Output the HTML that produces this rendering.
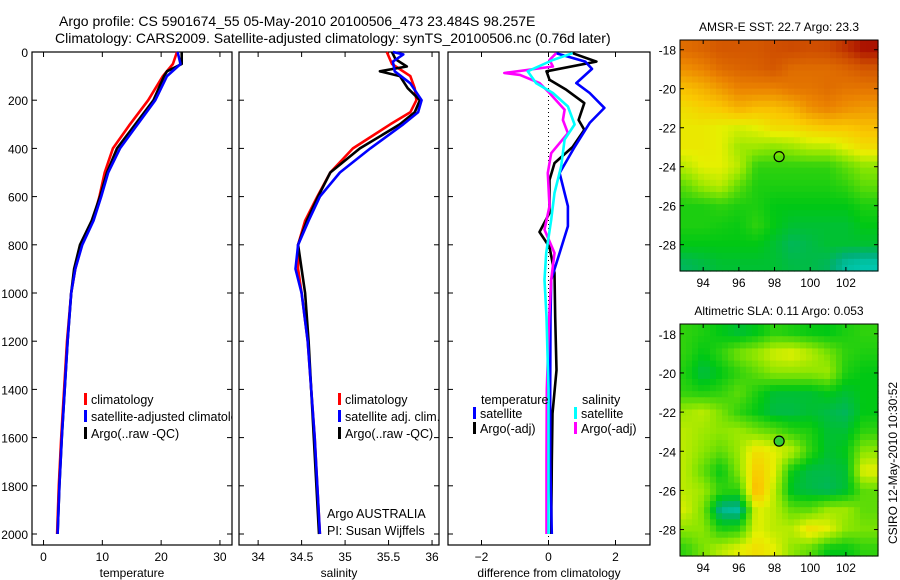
<!DOCTYPE html>
<html><head><meta charset="utf-8"><style>
body{margin:0;background:#fff;}
svg{display:block;font-family:"Liberation Sans",sans-serif;}
</style></head><body>
<svg id="chart" width="900" height="580" viewBox="0 0 900 580" xmlns="http://www.w3.org/2000/svg">
<defs><clipPath id="clip1"><rect x="32" y="52" width="200" height="493"/></clipPath></defs>
<text x="59" y="26" font-size="14">Argo profile: CS 5901674_55 05-May-2010 20100506_473 23.484S 98.257E</text>
<text x="55" y="43" font-size="14">Climatology: CARS2009. Satellite-adjusted climatology: synTS_20100506.nc (0.76d later)</text>
<g id="g"></g>
</svg>
<script>
// ---------- data ----------
const tempDepthClim = [0,50,100,200,300,400,500,600,700,800,900,1000,1200,1400,1600,1800,2000];
const tempClim      = [22.7,22.0,20.3,17.8,14.7,11.8,10.4,9.5,8.4,6.5,5.4,4.7,4.0,3.5,3.0,2.6,2.3];
const tempDepthArgo = [0,50,80,100,200,300,400,500,600,700,800,900,1000,1200,1400,1600,1800,2000];
const tempArgo      = [23.5,23.5,21.0,20.5,18.7,15.6,12.5,10.8,9.6,8.2,6.2,5.2,4.7,4.1,3.6,3.1,2.7,2.4];
const tempDepthSat  = [0,50,100,200,300,400,500,600,700,800,900,1000,1200,1400,1600,1800,2000];
const tempSat       = [22.8,23.3,21.0,19.0,16.0,13.0,11.0,9.8,8.5,6.6,5.4,4.7,4.1,3.6,3.1,2.7,2.4];

const salDepthClim = [0,50,100,150,200,250,300,400,500,600,700,800,900,1000,1200,1400,1600,1800,2000];
const salClim      = [35.48,35.54,35.75,35.80,35.82,35.75,35.52,35.09,34.83,34.68,34.54,34.46,34.46,34.50,34.57,34.61,34.65,34.68,34.71];
const salDepthArgo = [0,30,60,80,100,150,200,250,300,400,500,600,700,800,900,1000,1200,1400,1600,1800,2000];
const salArgo      = [35.54,35.58,35.71,35.40,35.63,35.72,35.86,35.80,35.63,35.17,34.83,34.69,34.56,34.46,34.50,34.54,34.58,34.61,34.64,34.67,34.70];
const salDepthSat  = [0,10,40,80,130,200,250,300,400,500,600,700,800,900,1000,1200,1400,1600,1800,2000];
const salSat       = [35.55,35.67,35.55,35.57,35.75,35.88,35.84,35.67,35.29,34.94,34.71,34.58,34.46,34.43,34.50,34.57,34.61,34.65,34.68,34.71];

const diffDepthTArgo = [5,40,80,115,157,212,282,323,394,461,531,668,747,809,917,1100,1320,1500,1700,2000];
const diffTArgo      = [0.72,1.43,-0.06,0.03,0.53,1.07,0.90,1.07,0.72,0.18,0.03,0.03,-0.27,0.03,0.18,0.20,0.24,0.12,0.10,0.08];
const diffDepthTSat  = [5,40,70,129,170,232,294,394,502,640,723,834,945,1100,1400,1700,2000];
const diffTSat       = [0.23,1.10,1.30,0.83,1.23,1.67,1.23,0.78,0.33,0.58,0.58,0.33,0.08,0.06,0.05,0.05,0.10];
const diffDepthSSat  = [5,33,80,129,170,226,301,363,474,585,696,834,945,1100,1400,1700,2000];
const diffSSat       = [0.72,0.13,-0.62,-0.37,0.13,0.58,0.78,0.48,0.38,0.18,0.08,-0.07,-0.12,-0.06,0.0,0.0,0.0];
const diffDepthSArgo = [5,33,60,87,95,129,170,240,282,337,420,502,640,737,834,945,1100,1400,1700,2000];
const diffSArgo      = [0.23,0.03,0.13,-1.32,-0.85,-0.27,0.03,0.48,0.43,0.58,0.08,-0.02,0.03,-0.12,0.18,0.08,0.02,-0.05,-0.06,-0.06];

const depthTicks = [0,200,400,600,800,1000,1200,1400,1600,1800,2000];
const tempTicks = [0,10,20,30];
const salTicks = [34,34.5,35,35.5,36];
const diffTicks = [-2,0,2];
const latTicks = [-18,-20,-22,-24,-26,-28];
const lonTicks = [94,96,98,100,102];

const sstGrid = [
[0.80,0.82,0.85,0.85,0.85,0.87,0.88,0.87,0.88,0.92,0.97],
[0.72,0.75,0.80,0.82,0.83,0.85,0.80,0.80,0.80,0.82,0.85],
[0.62,0.65,0.70,0.75,0.75,0.75,0.78,0.78,0.80,0.78,0.78],
[0.55,0.58,0.60,0.65,0.62,0.62,0.65,0.72,0.75,0.72,0.70],
[0.52,0.52,0.50,0.48,0.50,0.55,0.55,0.58,0.60,0.60,0.62],
[0.52,0.52,0.50,0.42,0.42,0.40,0.42,0.45,0.45,0.50,0.55],
[0.45,0.50,0.50,0.45,0.30,0.30,0.30,0.30,0.30,0.35,0.40],
[0.35,0.42,0.45,0.35,0.28,0.28,0.28,0.28,0.28,0.30,0.35],
[0.28,0.28,0.30,0.28,0.28,0.25,0.25,0.25,0.25,0.25,0.28],
[0.28,0.28,0.27,0.26,0.30,0.25,0.22,0.22,0.22,0.22,0.25],
[0.25,0.25,0.25,0.25,0.25,0.22,0.18,0.20,0.22,0.22,0.22],
[0.18,0.20,0.22,0.22,0.22,0.22,0.20,0.20,0.18,0.10,0.08]];
const slaGrid = [
[0.30,0.28,0.25,0.22,0.25,0.30,0.28,0.26,0.25,0.28,0.30],
[0.30,0.25,0.30,0.38,0.42,0.48,0.50,0.45,0.38,0.30,0.28],
[0.28,0.20,0.25,0.30,0.35,0.40,0.40,0.40,0.42,0.28,0.25],
[0.30,0.28,0.30,0.35,0.28,0.22,0.22,0.22,0.25,0.22,0.25],
[0.42,0.45,0.38,0.30,0.25,0.20,0.20,0.22,0.20,0.18,0.25],
[0.45,0.42,0.40,0.42,0.38,0.35,0.30,0.28,0.22,0.22,0.30],
[0.45,0.40,0.35,0.42,0.55,0.50,0.45,0.30,0.22,0.25,0.40],
[0.45,0.35,0.25,0.40,0.60,0.50,0.25,0.20,0.20,0.22,0.50],
[0.45,0.42,0.30,0.30,0.65,0.45,0.22,0.20,0.18,0.22,0.35],
[0.48,0.38,0.12,0.10,0.50,0.45,0.35,0.35,0.42,0.42,0.35],
[0.40,0.40,0.28,0.30,0.50,0.45,0.45,0.55,0.50,0.40,0.38],
[0.30,0.38,0.45,0.50,0.55,0.50,0.40,0.35,0.25,0.25,0.30]];
const floatLon = 98.257, floatLat = -23.484;

// ---------- drawing ----------
const NS = "http://www.w3.org/2000/svg";
const G = document.getElementById('g');
function el(tag, attrs, parent){const e=document.createElementNS(NS,tag);for(const k in attrs)e.setAttribute(k,attrs[k]);(parent||G).appendChild(e);return e;}
function txt(x,y,s,size,anchor,parent){const t=el('text',{x:x,y:y,'font-size':size,'text-anchor':anchor||'start'},parent);t.textContent=s;return t;}

const TOP=52, BOT=545, D0=52, DSC=0.241;
const yD = d => D0 + d*DSC;
const panels = [
 {name:'temperature',x0:32,x1:232,v0:-1.96,v1:32.05,ticks:tempTicks,label:'temperature'},
 {name:'salinity',x0:239,x1:439,v0:33.78,v1:36.08,ticks:salTicks,label:'salinity'},
 {name:'difference',x0:448,x1:650,v0:-3,v1:3.03,ticks:diffTicks,label:'difference from climatology'}];
panels.forEach(p=>{p.sx = v => p.x0 + (v-p.v0)/(p.v1-p.v0)*(p.x1-p.x0);});

panels.forEach((p,i)=>{
  const g=el('g',{});
  
  
  const r=el('rect',{x:p.x0,y:TOP,width:p.x1-p.x0,height:BOT-TOP,fill:'none',stroke:'#000','stroke-width':1.2},g);
  
  
  p.ticks.forEach(t=>{
    const x=p.sx(t);
    el('line',{x1:x,x2:x,y1:BOT,y2:BOT-5,stroke:'#000'},g);
    el('line',{x1:x,x2:x,y1:TOP,y2:TOP+5,stroke:'#000'},g);
    const lt=txt(x,561,String(t).replace('-','\u2212'),12,'middle',g);
    
    
  });
  depthTicks.forEach(d=>{
    const y=yD(d);
    el('line',{x1:p.x0,x2:p.x0+5,y1:y,y2:y,stroke:'#000'},g);
    el('line',{x1:p.x1,x2:p.x1-5,y1:y,y2:y,stroke:'#000'},g);
    if(i===0){const lt=txt(28,y+5,String(d),12,'end',g);
      
      }
  });
  const xl=txt((p.x0+p.x1)/2,577,p.label,12,'middle',g);
  
  
});
const zl=el('line',{x1:panels[2].sx(0),x2:panels[2].sx(0),y1:TOP,y2:BOT,stroke:'#000','stroke-dasharray':'1,3'});



function series(p,depths,vals,color,name){
  const pts=depths.map((d,i)=>p.sx(vals[i]).toFixed(1)+','+yD(d).toFixed(1)).join(' ');
  const l=el('polyline',{points:pts,fill:'none',stroke:color,'stroke-width':2.6,'stroke-linejoin':'round'});
  
  
}
series(panels[0],tempDepthClim,tempClim,'#f00','temperature-climatology-line');
series(panels[0],tempDepthArgo,tempArgo,'#000','temperature-argo-line');
series(panels[0],tempDepthSat,tempSat,'#00f','temperature-satellite-line');
series(panels[1],salDepthClim,salClim,'#f00','salinity-climatology-line');
series(panels[1],salDepthArgo,salArgo,'#000','salinity-argo-line');
series(panels[1],salDepthSat,salSat,'#00f','salinity-satellite-line');
series(panels[2],diffDepthTArgo,diffTArgo,'#000','diff-temp-argo-line');
series(panels[2],diffDepthTSat,diffTSat,'#00f','diff-temp-satellite-line');
series(panels[2],diffDepthSArgo,diffSArgo,'#f0f','diff-sal-argo-line');
series(panels[2],diffDepthSSat,diffSSat,'#0ff','diff-sal-satellite-line');

function legendItem(x,y,color,label,name,clip){
  const g=el('g',clip?{'clip-path':'url(#clip1)'}:{});
  
  
  el('rect',{x:x,y:y-11,width:3,height:12,fill:color},g);
  txt(x+7,y,label,12.5,'start',g);
}
legendItem(84,404,'#f00','climatology','legend-climatology',true);
legendItem(84,421,'#00f','satellite-adjusted climatology','legend-satellite-adjusted',true);
legendItem(84,438,'#000','Argo(..raw -QC)','legend-argo-raw',true);
legendItem(338,404,'#f00','climatology','legend-sal-climatology');
legendItem(338,421,'#00f','satellite adj. clim.','legend-sal-satellite');
legendItem(338,438,'#000','Argo(..raw -QC)','legend-sal-argo');
const lt1=txt(481,404,'temperature',12.5,'start');  
const lt2=txt(582,404,'salinity',12.5,'start');  
legendItem(473,418,'#00f','satellite','legend-temp-satellite');
legendItem(473,433,'#000','Argo(-adj)','legend-temp-argo');
legendItem(574,418,'#0ff','satellite','legend-sal-satellite-diff');
legendItem(574,433,'#f0f','Argo(-adj)','legend-sal-argo-diff');
const a1=txt(327,518,'Argo AUSTRALIA',12.5);  
const a2=txt(327,535,'PI: Susan Wijffels',12.5);  

// ---------- maps ----------
const cmapStops=[[0,[0,225,235]],[0.15,[0,175,120]],[0.25,[0,200,20]],[0.4,[140,230,0]],[0.5,[230,240,0]],[0.6,[250,200,0]],[0.75,[235,130,0]],[0.88,[205,75,0]],[1,[160,0,0]]];
function cmap(v){v=Math.max(0,Math.min(1,v));for(let i=1;i<cmapStops.length;i++){const[a,ca]=cmapStops[i-1],[b,cb]=cmapStops[i];if(v<=b){const t=(v-a)/(b-a);return 'rgb('+ca.map((c,k)=>Math.round(c+(cb[k]-c)*t)).join(',')+')';}}return 'rgb(160,0,0)';}
function bil(grid,r,c){const R=grid.length-1,C=grid[0].length-1;r=Math.max(0,Math.min(R,r));c=Math.max(0,Math.min(C,c));const r0=Math.floor(r),c0=Math.floor(c),r1=Math.min(R,r0+1),c1=Math.min(C,c0+1),fr=r-r0,fc=c-c0;return grid[r0][c0]*(1-fr)*(1-fc)+grid[r0][c1]*(1-fr)*fc+grid[r1][c0]*fr*(1-fc)+grid[r1][c1]*fr*fc;}

function drawMap(grid,y0,y1,title,name,filled,lonLabelY){
  const x0=680,x1=878,lon0=92.7,lon1=103.8,lat0=-17.5,lat1=-29.35;
  const sx=lon=>x0+(lon-lon0)/(lon1-lon0)*(x1-x0);
  const sy=lat=>y0+(lat-lat0)/(lat1-lat0)*(y1-y0);
  const g=el('g',{});
  
  
  const nx=33,ny=38,cw=(x1-x0)/nx,ch=(y1-y0)/ny;
  for(let j=0;j<ny;j++)for(let i=0;i<nx;i++){
    const lat=lat0+(j+0.5)/ny*(lat1-lat0), lon=lon0+(i+0.5)/nx*(lon1-lon0);
    const r=(-18-lat), c=(lon-93);
    const cell=el('rect',{x:(x0+i*cw).toFixed(2),y:(y0+j*ch).toFixed(2),width:(cw+0.6).toFixed(2),height:(ch+0.6).toFixed(2),fill:cmap(bil(grid,r,c))},g);
    
    
  }
  el('rect',{x:x0,y:y0,width:x1-x0,height:y1-y0,fill:'none',stroke:'#000'},g);
  latTicks.forEach(l=>{const y=sy(l);el('line',{x1:x0,x2:x0+4,y1:y,y2:y,stroke:'#000'},g);el('line',{x1:x1,x2:x1-4,y1:y,y2:y,stroke:'#000'},g);
    const t=txt(676,y+5,String(l),12,'end',g);});
  lonTicks.forEach(l=>{const x=sx(l);el('line',{x1:x,x2:x,y1:y1,y2:y1-4,stroke:'#000'},g);el('line',{x1:x,x2:x,y1:y0,y2:y0+4,stroke:'#000'},g);
    const t=txt(x,lonLabelY,String(l),12,'middle',g);});
  const m=el('circle',{cx:sx(floatLon),cy:sy(floatLat),r:5,fill:filled?'#3c3':'none',stroke:'#000','stroke-width':1.2},g);
  
  
  const t=txt(779,y0-9,title,12,'middle',g);
  
  
}
drawMap(sstGrid,40,271,'AMSR-E SST: 22.7 Argo: 23.3','sst-map',false,287);
drawMap(slaGrid,324,556,'Altimetric SLA: 0.11 Argo: 0.053','sla-map',true,572);
const side=txt(0,0,'CSIRO 12-May-2010 10:30:52',12,'middle');
side.setAttribute('transform','translate(897,463) rotate(-90)');


</script>
</body></html>
